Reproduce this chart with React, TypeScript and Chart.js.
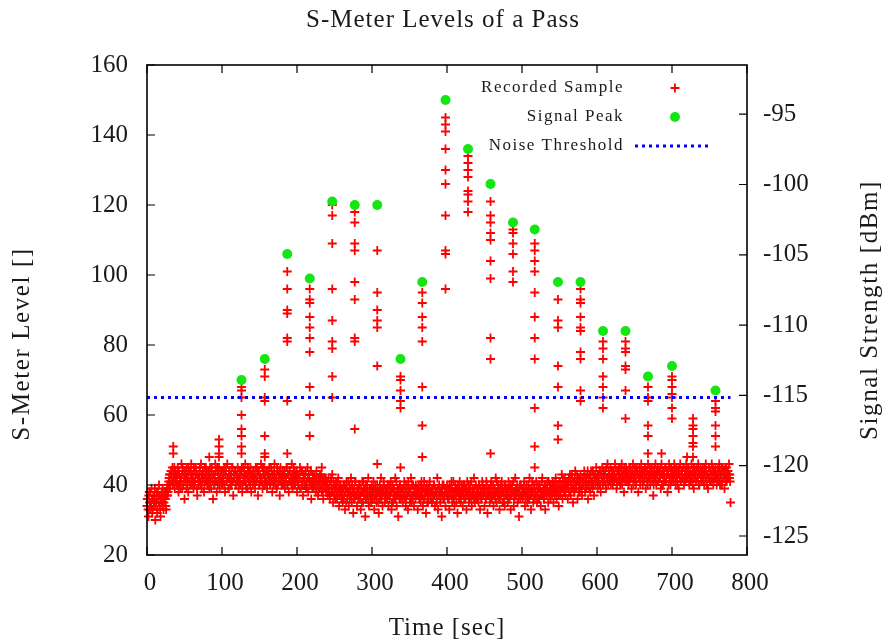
import React, { useEffect, useRef } from 'react';
import { Chart, registerables } from 'chart.js';

Chart.register(...registerables);

// ---------------- data ----------------
const chartTitle = 'S-Meter Levels of a Pass';
const xTitle = 'Time [sec]';
const yTitle = 'S-Meter Level []';
const y2Title = 'Signal Strength [dBm]';

// background samples on whole seconds, starting at t = 0
const noiseStartA = 0;
const noiseStep = 1;
const noiseLevelsA = [
  34,36,31,38,33,35,39,32,36,34,37,30,35,38,33,36,40,34,31,37,
  35,39,33,36,38,34,37,40,38,41,43,40,44,42,45,41,43,39,44,42,
  41,45,38,43,40,42,46,39,44,41,36,43,42,45,40,38,44,41,43,46,
  40,42,39,44,41,45,43,37,42,40,44,41,46,39,43,42,38,45,41,44,
  42,40,43,39,45,41,44,42,36,43,40,46,41,38,44,42,45,39,43,41,
  44,40,42,45,38,43,41,46,42,39,44,40,43,41,45,37,42,44,40,43,
  41,45,39,42,44,40,43,38,45,41,42,46,40,43,39,44,42,41,45,38,
  43,40,44,42,39,45,41,43,37,44,40,42,46,41,39,43,45,40,42,44,
  39,43,41,45,40,42,44,38,43,41,46,40,42,39,44,41,43,37,45,42,
  40,44,41,43,39,42,45,40,43,38,44,41,42,46,39,43,40,44,41,42,
  38,43,40,42,45,39,41,44,37,42,40,43,39,41,45,38,42,40,44,36,
  41,43,39,40,42,38,44,40,37,42,39,41,43,38,40,36,42,39,41,38,
  40,37,42,39,36,41,38,43,35,40,38,36,41,39,37,42,34,39,40,36,
  38,35,40,37,33,39,41,36,38,34,40,37,42,35,39,32,38,36,41,37,
  34,39,37,40,36,33,38,41,35,39,37,31,40,36,38,42,34,37,39,35,
  38,36,41,33,39,37,35,40,38,32,36,39,42,37,34,38,40,35,37,39,
  36,40,34,38,37,41,33,39,35,38,36,42,37,34,39,31,38,40,36,37,
  39,35,38,41,36,34,40,37,33,39,38,36,42,35,37,40,34,38,36,39,
  37,33,40,36,38,35,41,37,34,39,36,38,32,40,37,35,39,41,36,38,
  35,39,37,40,34,38,36,42,33,37,39,35,38,31,40,36,37,39,34,38,
  40,36,38,33,39,37,41,35,38,36,34,40,37,39,32,38,36,41,35,37,
  38,34,40,36,39,37,33,41,38,35,37,40,36,34,39,38,42,35,37,36,
  39,37,35,40,33,38,36,41,37,39,34,38,36,40,32,37,39,35,38,41,
  36,38,34,39,37,42,35,38,40,36,33,39,37,41,35,38,36,34,40,37,
  38,35,41,36,39,33,37,40,38,34,36,42,37,39,35,38,31,40,36,37,
  39,36,38,41,34,37,40,35,38,36,42,37,33,39,38,35,40,36,37,41,
  35,38,40,36,39,34,37,42,38,36,40,33,39,37,41,35,38,40,36,39,
  37,41,35,39,38,42,36,40,38,34,41,37,39,43,36,40,38,42,37,39,
  41,36,40,38,43,37,39,42,35,40,38,44,39,41,36,42,40,38,43,39,
  37,42,40,44,38,41,39,43,36,42,40,38,44,41,39,43,37,42,40,45,
  41,39,43,40,44,38,42,45,40,43,41,44,39,42,46,40,43,41,45,42,
  44,40,43,41,46,42,39,44,41,45,43,40,42,46,41,44,38,43,42,45,
  41,43,40,45,42,44,39,43,46,41,42,44,40,45,43,38,42,44,41,46,
  43,40,44,42,45,39,43,41,46,42,44,40,43,45,41,37,44,42,46,40,
  43,45,41,44,42,39,46,43,40,44,42,45,41,43,38,44,46,42,40,45,
  42,44,41,46,43,40,45,42,44,39,43,46,41,44,42,45,40,43,41,46,
  44,42,45,40,43,41,46,42,44,39,45,43,41,44,42,46,40,43,45,41,
  43,45,42,40,44,46,41,43,39,45,42,44,41,46,43,40,44,42,45,43,
  41,44,42,46,40,43,45,41,44,42,39,45,43,41,44,42,46,43,35,
];

// background samples on half seconds, starting at t = 0.5
const noiseStartB = 0.5;
const noiseLevelsB = [
  36,33,37,35,38,34,36,33,37,35,39,34,36,32,38,35,37,33,36,38,
  34,37,35,38,36,33,39,37,40,42,39,43,41,44,40,42,45,41,43,40,
  43,40,44,42,39,41,43,45,40,42,44,41,39,43,42,45,41,40,44,42,
  43,41,45,40,42,44,39,43,41,42,45,40,43,41,44,42,40,43,45,41,
  40,44,41,43,42,39,45,41,43,40,42,44,41,45,40,43,41,42,44,40,
  42,41,44,40,43,45,41,42,39,44,42,43,40,45,41,43,42,44,40,41,
  43,42,40,44,41,43,45,40,42,44,41,43,39,42,45,41,44,40,43,42,
  41,44,42,40,43,41,45,42,44,40,43,41,42,45,40,44,42,43,41,40,
  44,41,43,42,40,45,41,43,40,44,42,41,43,45,40,42,44,41,43,40,
  42,43,40,44,41,42,45,40,43,41,44,42,40,43,41,45,42,40,43,44,
  41,40,43,42,39,44,41,40,43,42,40,44,41,39,42,43,40,41,44,40,
  39,42,40,43,41,39,42,40,38,41,43,40,39,42,38,41,40,39,42,38,
  41,39,38,40,37,42,39,38,41,37,39,40,38,36,41,39,37,40,38,39,
  37,39,36,40,38,35,39,37,41,38,36,39,37,40,38,36,39,41,37,38,
  39,36,38,40,37,39,35,38,41,37,39,36,38,40,37,35,39,38,36,40,
  37,39,38,36,40,38,37,39,35,38,40,37,36,39,38,41,37,39,36,38,
  38,37,40,36,39,38,35,40,37,39,38,36,41,38,37,39,36,40,38,37,
  36,39,37,40,38,36,39,37,41,38,35,39,37,40,36,38,39,37,40,38,
  39,37,38,36,40,37,39,38,36,41,37,39,38,35,39,37,40,38,36,39,
  38,36,40,37,39,38,35,39,37,40,38,36,39,38,37,40,36,38,39,37,
  37,39,36,40,38,37,39,36,41,38,37,39,35,38,40,37,39,38,36,40,
  39,37,38,40,36,39,38,37,40,36,39,38,41,37,38,36,39,37,40,38,
  36,38,40,37,39,36,38,40,37,38,39,36,41,38,37,39,38,36,40,37,
  38,40,37,39,36,38,41,37,39,38,36,40,37,39,38,35,40,38,37,39,
  37,39,38,36,40,37,39,38,41,36,38,39,37,40,38,36,39,37,40,38,
  39,37,40,38,36,39,38,37,40,36,39,38,37,41,38,36,39,38,37,40,
  38,36,39,40,37,38,41,37,39,36,38,40,37,39,38,41,37,38,40,39,
  39,38,40,37,41,39,38,40,37,39,41,38,40,39,42,38,40,41,39,40,
  40,39,42,38,41,40,43,39,41,38,42,40,39,43,41,38,42,40,41,39,
  42,40,41,43,39,42,40,44,41,39,43,42,40,41,44,40,42,43,41,42,
  43,41,42,44,40,43,42,41,44,42,43,40,45,42,41,44,43,42,40,44,
  42,44,41,43,45,42,40,44,43,41,45,42,44,40,43,42,45,41,44,43,
  44,42,43,41,45,43,42,44,40,43,45,42,41,44,43,42,45,40,43,44,
  42,44,41,43,45,42,44,40,43,42,45,41,44,43,42,40,45,43,41,44,
  43,41,44,42,45,43,40,44,42,43,41,45,42,44,43,40,42,45,43,41,
  44,42,43,45,41,44,42,40,43,45,42,41,44,43,42,45,41,43,44,42,
  42,45,43,41,44,42,43,40,45,42,44,43,41,45,42,44,40,43,42,44,
  44,41,43,45,42,44,40,43,42,45,41,44,43,42,45,41,43,44,42,40,
  43,45,41,44,42,43,40,45,42,44,43,41,45,42,44,43,42,41,
];

// bursts of samples recorded at (almost) the same instant
const burstTimes = [35, 83, 96, 126, 157, 187, 217, 233, 247, 277, 307, 338, 367, 398, 428, 458, 488, 517, 548, 578, 608, 638, 668, 686, 700, 720, 728, 758];
const burstLevels = [
  [51, 49],
  [48],
  [53, 51, 49, 48],
  [68, 67, 65, 60, 56, 54, 51, 49],
  [73, 71, 65, 64, 54, 49, 48],
  [101, 96, 90, 89, 82, 81, 64, 49],
  [96, 93, 92, 88, 85, 82, 78, 68, 60, 54],
  [45],
  [120, 117, 109, 96, 87, 81, 79, 71, 65],
  [118, 115, 109, 107, 98, 93, 82, 81, 56],
  [107, 95, 90, 87, 85, 74, 46],
  [71, 70, 67, 64, 62, 45],
  [95, 92, 88, 85, 81, 68, 57, 48],
  [145, 143, 141, 136, 130, 126, 117, 107, 106, 96],
  [134, 132, 130, 128, 124, 123, 121, 118],
  [121, 117, 115, 112, 110, 104, 99, 82, 76, 49],
  [113, 112, 109, 106, 101, 98],
  [109, 107, 104, 101, 95, 88, 82, 76, 62, 51, 45],
  [93, 87, 85, 74, 68, 57, 53],
  [96, 93, 92, 88, 85, 84, 78, 76, 67, 64],
  [81, 79, 76, 71, 68, 65, 62],
  [81, 79, 78, 74, 73, 67, 59],
  [68, 65, 64, 57, 54, 49],
  [49],
  [71, 70, 68, 66, 65, 62, 59],
  [48],
  [59, 57, 56, 54, 52, 51, 48],
  [64, 62, 61, 57, 54, 51],
];

const peakTimes = [126, 157, 187, 217, 247, 277, 307, 338, 367, 398, 428, 458, 488, 517, 548, 578, 608, 638, 668, 700, 758];
const peakLevels = [70, 76, 106, 99, 121, 120, 120, 76, 98, 150, 136, 126, 115, 113, 98, 98, 84, 84, 71, 74, 67];

const thresholdLevel = 65;
const thresholdTimes = [0, 778];

const xTicks = [0, 100, 200, 300, 400, 500, 600, 700, 800];
const yTicks = [20, 40, 60, 80, 100, 120, 140, 160];
const y2Ticks = [-125, -120, -115, -110, -105, -100, -95];
const y2Range = [-126.35, -91.5];

const legendLabels = ['Recorded Sample', 'Signal Peak', 'Noise Threshold'];

// ---------------- styling ----------------
const FONT = '"Liberation Serif", "DejaVu Serif", serif';
const TEXT = '#1a1a1a';
const RED = '#ff0000';
const GREEN = '#14e614';
const BLUE = '#0000ff';

const framePlugin = {
  id: 'gnuplotFrame',
  afterDraw(chart: any) {
    const { ctx, chartArea: a, scales } = chart;
    ctx.save();
    // border
    ctx.strokeStyle = '#000';
    ctx.lineWidth = 1.6;
    ctx.strokeRect(a.left, a.top, a.right - a.left, a.bottom - a.top);
    // inward ticks
    const TL = 8;
    ctx.lineWidth = 1.2;
    ctx.beginPath();
    for (const v of xTicks) {
      const px = scales.x.getPixelForValue(v);
      ctx.moveTo(px, a.bottom); ctx.lineTo(px, a.bottom - TL);
      ctx.moveTo(px, a.top); ctx.lineTo(px, a.top + TL);
    }
    for (const v of yTicks) {
      const py = scales.y.getPixelForValue(v);
      ctx.moveTo(a.left, py); ctx.lineTo(a.left + TL, py);
    }
    for (const v of y2Ticks) {
      const py = scales.y2.getPixelForValue(v);
      ctx.moveTo(a.right, py); ctx.lineTo(a.right - TL, py);
    }
    ctx.stroke();

    // titles
    ctx.fillStyle = TEXT;
    ctx.textAlign = 'center';
    ctx.textBaseline = 'middle';
    ctx.font = `25px ${FONT}`;
    (ctx as any).letterSpacing = '1px';
    const cx = (a.left + a.right) / 2;
    const cy = (a.top + a.bottom) / 2;
    ctx.fillText(chartTitle, cx - 4, 20);
    ctx.fillText(xTitle, cx, 628);
    ctx.save();
    ctx.translate(22, cy + 34);
    ctx.rotate(-Math.PI / 2);
    (ctx as any).letterSpacing = '1.6px';
    ctx.fillText(yTitle, 0, 0);
    ctx.restore();
    ctx.save();
    ctx.translate(870, cy);
    ctx.rotate(-Math.PI / 2);
    (ctx as any).letterSpacing = '1.6px';
    ctx.fillText(y2Title, 0, 0);
    ctx.restore();

    // legend (gnuplot style)
    ctx.font = `17px ${FONT}`;
    (ctx as any).letterSpacing = '1.5px';
    ctx.textAlign = 'right';
    const textRight = 624;
    const markX = 675;
    const rows = [88, 117, 146];
    legendLabels.forEach((lab, i) => ctx.fillText(lab, textRight, rows[i]));
    // recorded sample marker
    ctx.strokeStyle = RED;
    ctx.lineWidth = 1.8;
    ctx.beginPath();
    ctx.moveTo(markX - 4.5, rows[0]); ctx.lineTo(markX + 4.5, rows[0]);
    ctx.moveTo(markX, rows[0] - 4.5); ctx.lineTo(markX, rows[0] + 4.5);
    ctx.stroke();
    // peak marker
    ctx.fillStyle = GREEN;
    ctx.beginPath();
    ctx.arc(markX, rows[1], 5, 0, Math.PI * 2);
    ctx.fill();
    // threshold sample
    ctx.strokeStyle = BLUE;
    ctx.lineWidth = 3;
    ctx.setLineDash([3, 4]);
    ctx.beginPath();
    ctx.moveTo(635, rows[2]); ctx.lineTo(712, rows[2]);
    ctx.stroke();
    ctx.restore();
  },
};

export default function App() {
  const ref = useRef<HTMLCanvasElement | null>(null);

  useEffect(() => {
    if (!ref.current) return;
    const samples: { x: number; y: number }[] = [];
    noiseLevelsA.forEach((v, i) => samples.push({ x: noiseStartA + i * noiseStep, y: v }));
    noiseLevelsB.forEach((v, i) => samples.push({ x: noiseStartB + i * noiseStep, y: v }));
    burstTimes.forEach((t, k) => burstLevels[k].forEach((v) => samples.push({ x: t, y: v })));
    const peaks = peakTimes.map((t, i) => ({ x: t, y: peakLevels[i] }));
    const threshold = thresholdTimes.map((t) => ({ x: t, y: thresholdLevel }));

    const tickFont = { family: FONT, size: 25 };

    const chart = new Chart(ref.current, {
      type: 'scatter',
      data: {
        datasets: [
          {
            type: 'line',
            label: legendLabels[2],
            data: threshold,
            borderColor: BLUE,
            borderWidth: 3,
            borderDash: [3, 4],
            pointRadius: 0,
            fill: false,
            yAxisID: 'y',
            order: 0,
          } as any,
          {
            label: legendLabels[1],
            data: peaks,
            pointStyle: 'circle',
            pointRadius: 5,
            backgroundColor: GREEN,
            borderColor: GREEN,
            borderWidth: 0,
            yAxisID: 'y',
            order: 1,
            clip: false,
          } as any,
          {
            label: legendLabels[0],
            data: samples,
            pointStyle: 'cross',
            pointRadius: 4.5,
            borderColor: RED,
            backgroundColor: RED,
            borderWidth: 1.8,
            yAxisID: 'y',
            order: 2,
            clip: false,
          } as any,
        ],
      },
      options: {
        animation: false,
        responsive: false,
        devicePixelRatio: 1,
        events: [],
        layout: { padding: { top: 65, left: 0, right: 0, bottom: 0 } },
        plugins: { legend: { display: false }, title: { display: false }, tooltip: { enabled: false } },
        scales: {
          x: {
            type: 'linear',
            position: 'bottom',
            min: 0,
            max: 800,
            grid: { display: false, drawTicks: false },
            border: { display: false },
            ticks: { stepSize: 100, font: tickFont, color: TEXT, padding: 13, labelOffset: 3, maxRotation: 0 },
            afterBuildTicks: (s: any) => { s.ticks = xTicks.map((v) => ({ value: v })); },
            afterFit: (s: any) => { s.height = 88; },
          },
          y: {
            type: 'linear',
            position: 'left',
            min: 20,
            max: 160,
            grid: { display: false, drawTicks: false },
            border: { display: false },
            ticks: { stepSize: 20, font: tickFont, color: TEXT, padding: 19 },
            afterBuildTicks: (s: any) => { s.ticks = yTicks.map((v) => ({ value: v })); },
            afterFit: (s: any) => { s.width = 147; },
          },
          y2: {
            type: 'linear',
            position: 'right',
            min: y2Range[0],
            max: y2Range[1],
            grid: { display: false, drawTicks: false },
            border: { display: false },
            ticks: { font: tickFont, color: TEXT, padding: 16 },
            afterBuildTicks: (s: any) => { s.ticks = y2Ticks.map((v) => ({ value: v })); },
            afterFit: (s: any) => { s.width = 136; },
          },
        },
      } as any,
      plugins: [framePlugin],
    });
    return () => chart.destroy();
  }, []);

  return (
    <div style={{ position: 'fixed', left: 0, top: 0, width: 883, height: 643, background: '#fff' }}>
      <canvas ref={ref} width={883} height={643} style={{ display: 'block' }} />
    </div>
  );
}
